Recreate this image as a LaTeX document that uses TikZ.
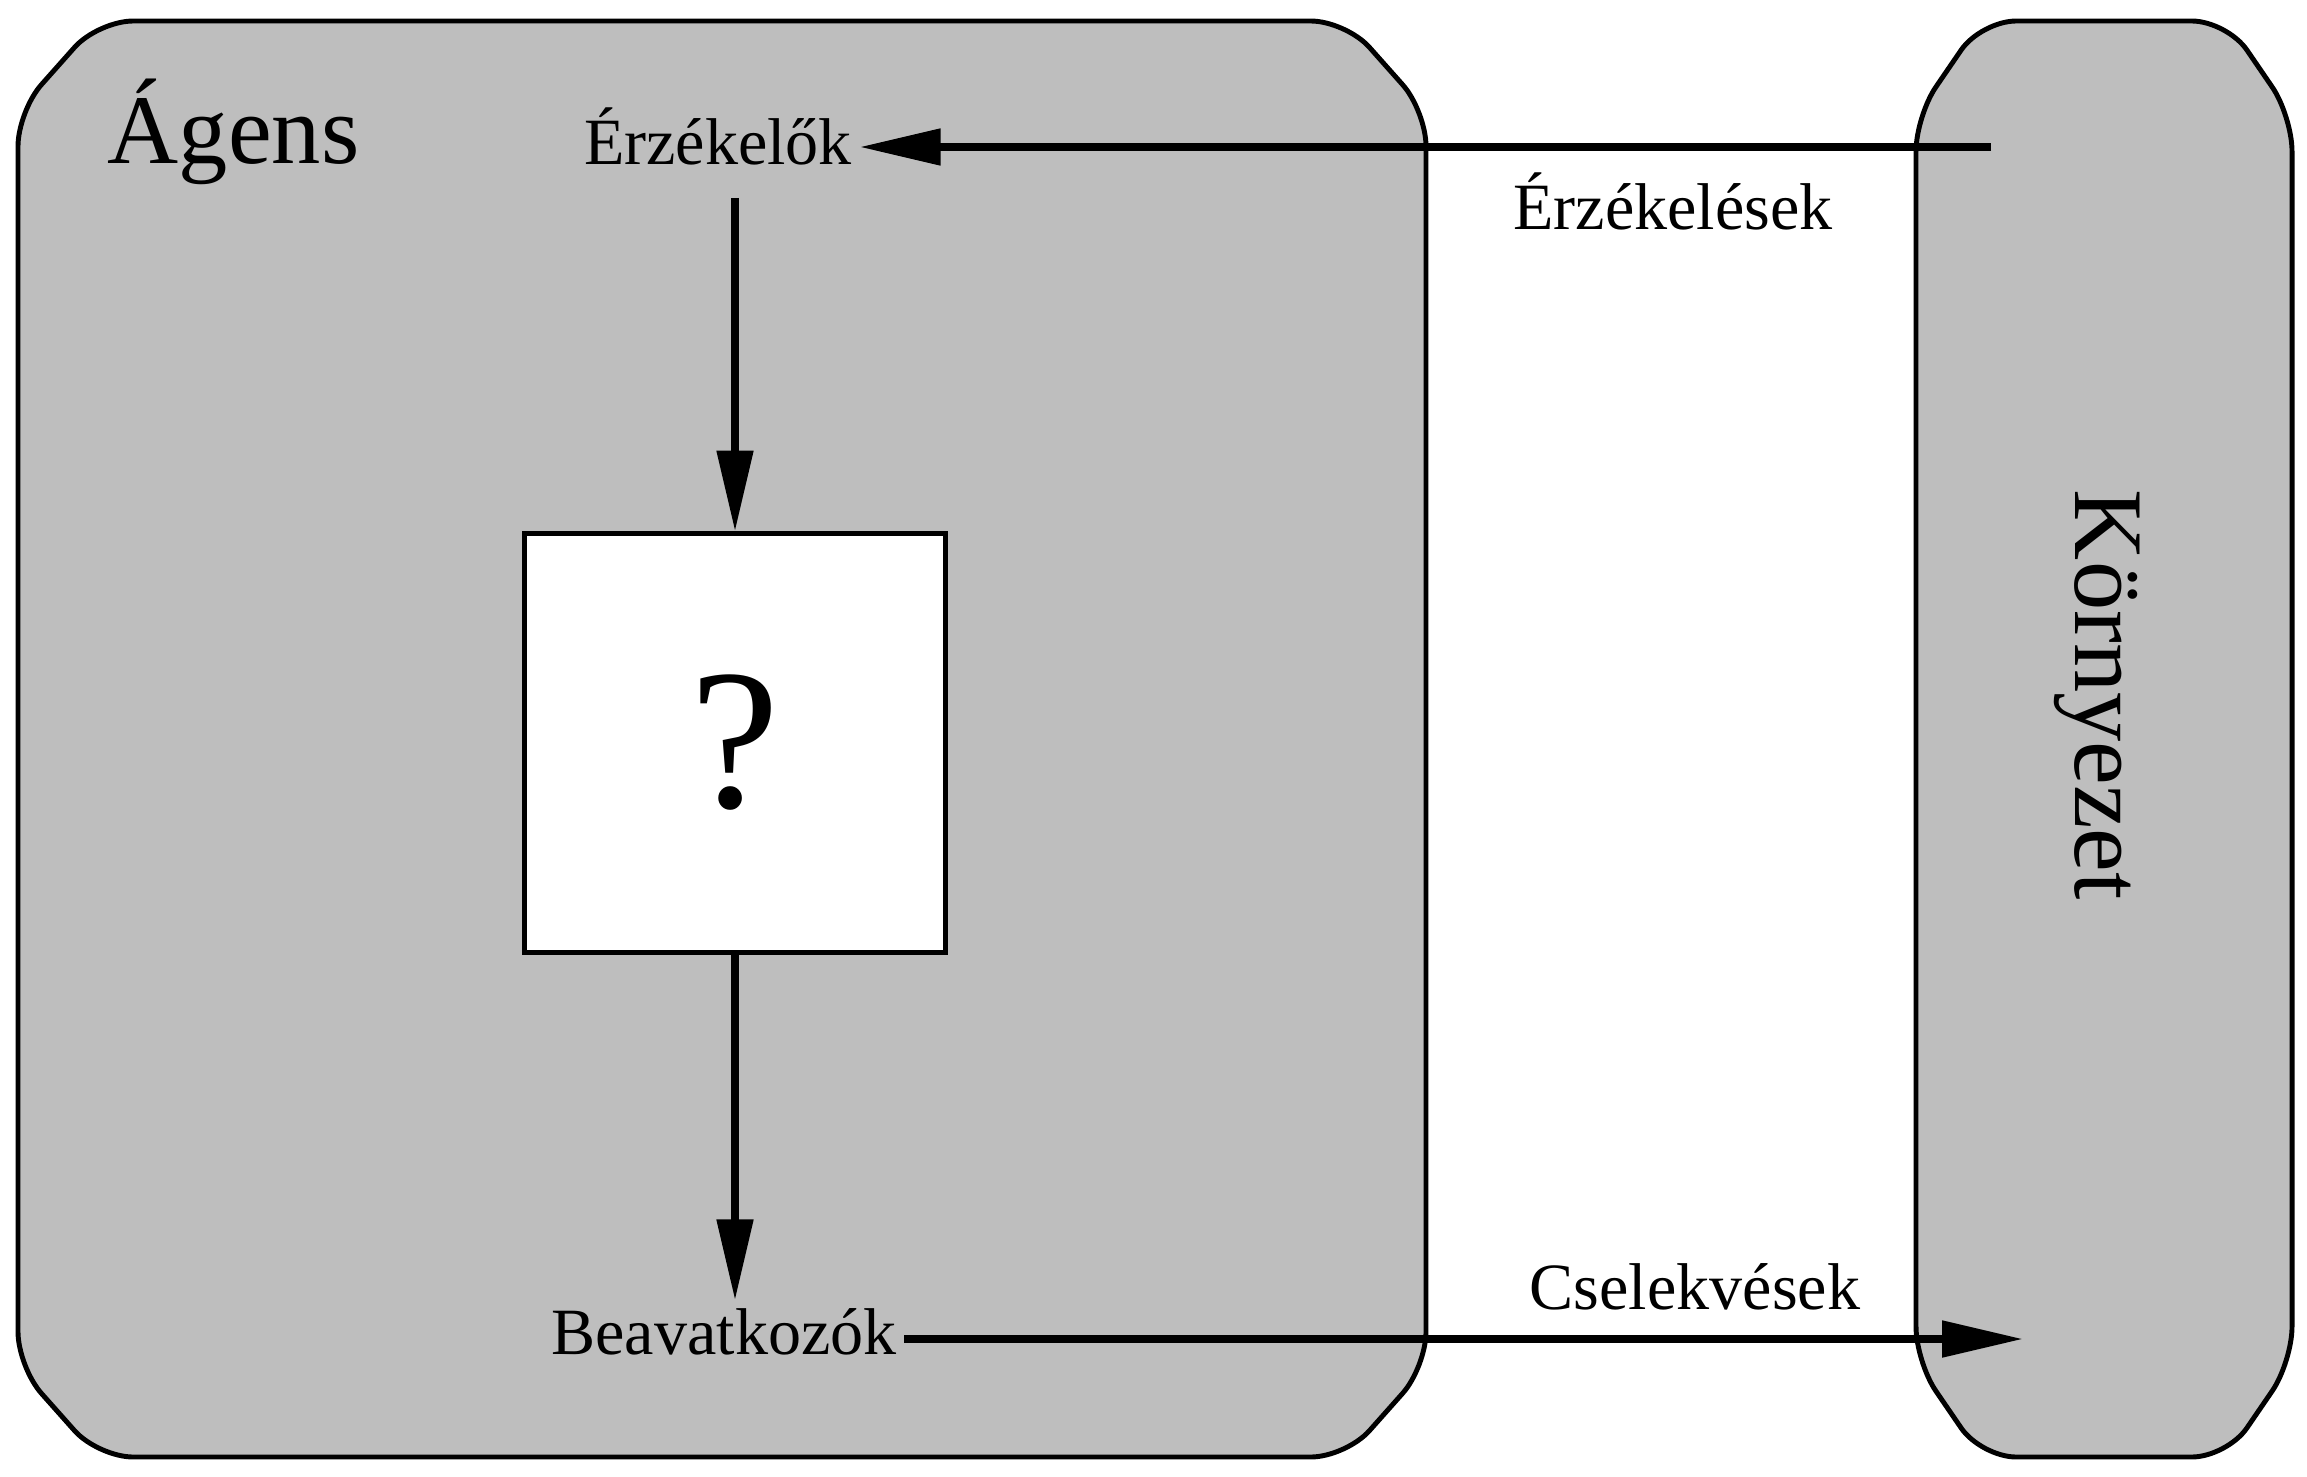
\documentclass[tikz,border=0pt]{standalone}
\usepackage{fontspec}
\setmainfont{Liberation Serif}
\usetikzlibrary{arrows.meta}
\definecolor{boxgray}{RGB}{190,190,190}
\tikzset{
  frame/.style={draw=black, line width=1.4pt, fill=boxgray, rounded corners=10pt},
  flow/.style={line width=2.2pt, -{Triangle[length=23pt, width=10pt]}},
  smalltext/.style={font=\fontsize{18.8}{22}\selectfont, inner sep=2pt},
  bigtext/.style={font=\fontsize{28}{32}\selectfont, inner sep=2pt},
}

\begin{document}
\begin{tikzpicture}[x=0.01cm, y=-0.01cm]
		%%%%% START %%%%%
		\useasboundingbox (0,0) rectangle (2307,1476);
		
		% agent
		\draw[frame] (18,111) -- (98,21) -- (1346,21) -- (1426,111) -- (1426,1367) -- (1346,1457) -- (98,1457) -- (18,1367) -- cycle;
		\node[bigtext, anchor=base west] (agent) at (100,163) {Ágens};
		
		% environment
		\draw[frame] (1916,116) -- (1981,21) -- (2227,21) -- (2292,116) -- (2292,1362) -- (2227,1457) -- (1981,1457) -- (1916,1362) -- cycle;
		\node[bigtext, rotate=-90] (env) at (2097,695) {Környezet};
		
		\node[draw, line width=1.4pt, fill=white, minimum width=4.21cm, minimum height=4.18cm, font=\fontsize{57}{60}\selectfont] (brain) at (735,743) {?};
		
		\node[smalltext, anchor=base] (sensors) at (718,165) {Érzékelők};
		\node[smalltext, anchor=base] (actuators) at (724,1354) {Beavatkozók};
		\coordinate (percept) at (1991,147);
		\coordinate (act) at (2023,1339);
		
		\draw[flow] (percept) -- (percept -| sensors.east);
		\draw[flow, shorten <=7pt] (sensors.south -| brain.north) -- (brain.north);
		\draw[flow] (brain.south) -- (actuators.north -| brain.south);
		\draw[flow] (actuators.east |- act) -- (act);
		
		\node[smalltext, anchor=base] (percepts) at (1673,229) {Érzékelések};
		\node[smalltext, anchor=base] (actions) at (1695,1309) {Cselekvések};
		
		%%%%% END %%%%%
\end{tikzpicture}
\end{document}
